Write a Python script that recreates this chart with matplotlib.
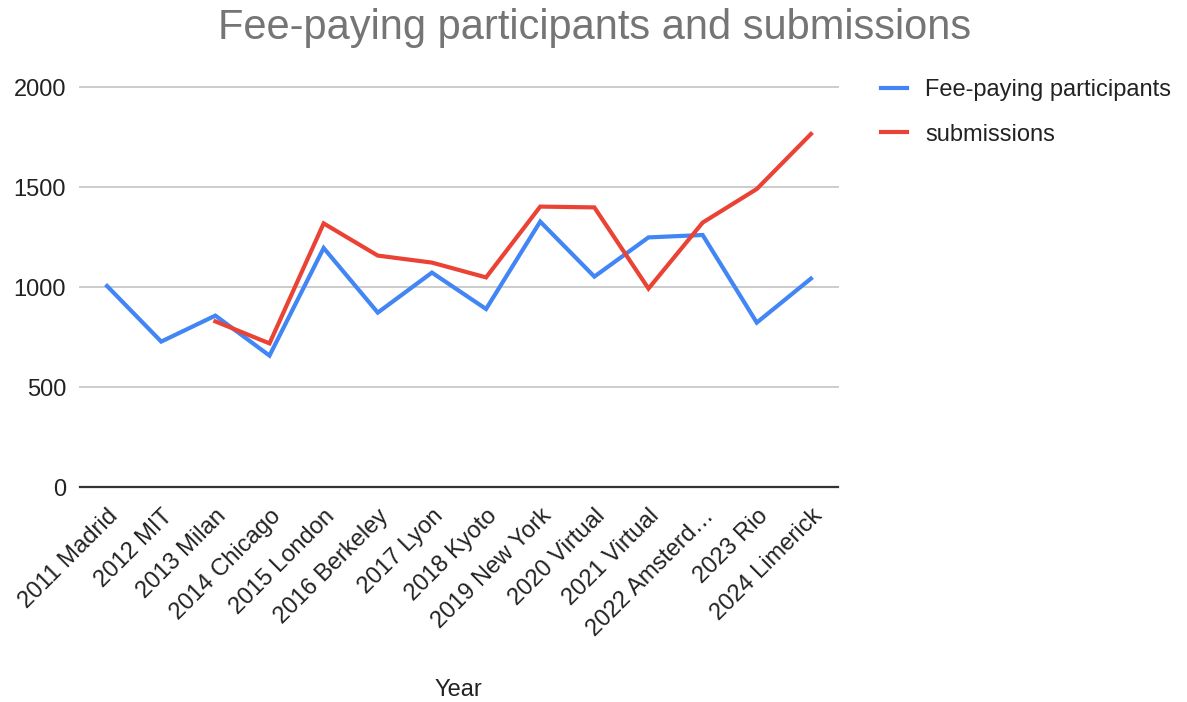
import numpy as np
import matplotlib.pyplot as plt

years = ["2011 Madrid", "2012 MIT", "2013 Milan", "2014 Chicago", "2015 London",
         "2016 Berkeley", "2017 Lyon", "2018 Kyoto", "2019 New York", "2020 Virtual",
         "2021 Virtual", "2022 Amsterd\u2026", "2023 Rio", "2024 Limerick"]
participants = [1005, 727, 857, 657, 1195, 872, 1072, 890, 1327, 1052, 1248, 1260, 822, 1042]
submissions = [np.nan, np.nan, 828, 718, 1318, 1157, 1122, 1048, 1402, 1398, 992, 1322, 1490, 1765]

plt.rcParams['font.family'] = ['Liberation Sans', 'DejaVu Sans']

fig = plt.figure(figsize=(11.87, 7.02), dpi=100)
ax = fig.add_axes([80 / 1187, 215 / 702, 758 / 1187, 400 / 702])

x = np.arange(len(years))
ax.plot(x, participants, color="#4285F4", lw=3, label="Fee-paying participants", solid_joinstyle="miter")
ax.plot(x, submissions, color="#EA4335", lw=3, label="submissions", solid_joinstyle="miter")

ax.set_xlim(-0.5, len(years) - 0.5)
ax.set_ylim(0, 2000)
ax.set_yticks([0, 500, 1000, 1500, 2000])
ax.yaxis.grid(True, color="#cccccc", lw=1.4)
ax.set_axisbelow(True)
for g in ax.get_ygridlines():
    g.set_clip_on(False)

for s in ["top", "right", "left"]:
    ax.spines[s].set_visible(False)
ax.spines["bottom"].set_color("#333333")
ax.spines["bottom"].set_linewidth(1.6)
ax.spines["bottom"].set_zorder(3)

ax.tick_params(axis="y", length=0, pad=10, labelsize=17, labelcolor="#222222")
ax.tick_params(axis="x", length=0, pad=13, labelsize=17, labelcolor="#222222")
ax.set_xticks(x)
ax.set_xticklabels(years, rotation=45, ha="right", va="top", rotation_mode="anchor")

# axis title placed by hand, like the reference
fig.text(458 / 1187, 1 - 690 / 702, "Year", fontsize=17, color="#222222", ha="center", va="center")

fig.text(595 / 1187, 1 - 28 / 702, "Fee-paying participants and submissions",
         fontsize=30, color="#757575", ha="center", va="center")

ax.legend(loc="upper left", bbox_to_anchor=(860 / 1187, 1 - 58 / 702), bbox_transform=fig.transFigure,
          frameon=False, fontsize=17, handlelength=1.1, handletextpad=0.75, labelspacing=0.95,
          labelcolor="#222222")

fig.savefig("out.png", dpi=100)
